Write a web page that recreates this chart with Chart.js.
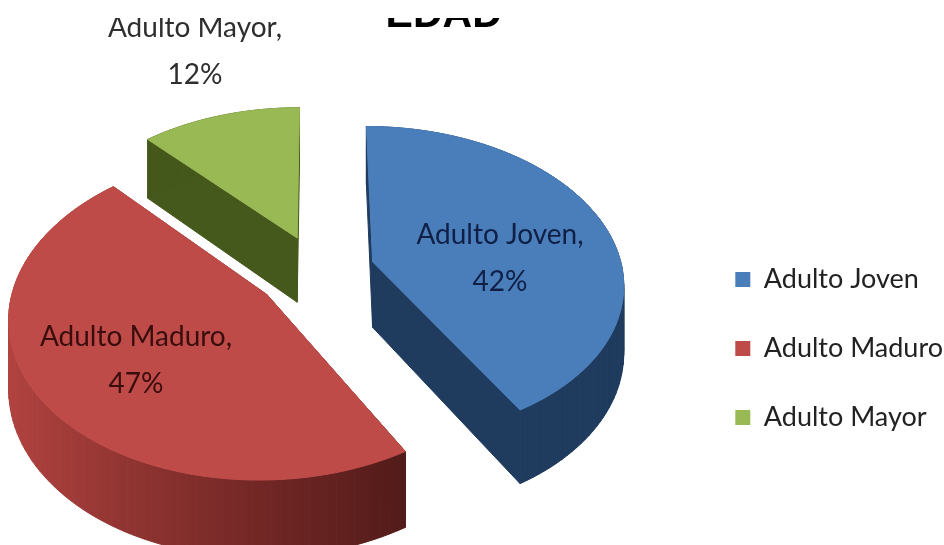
<!DOCTYPE html>
<html>
<head>
<meta charset="utf-8">
<title>EDAD</title>
<script src="https://cdn.jsdelivr.net/npm/chart.js@4"></script>
<style>
  html, body { margin: 0; padding: 0; background: #fff; }
  #wrap { position: relative; width: 944px; height: 545px; overflow: hidden; }
</style>
</head>
<body>
<div id="wrap"><canvas id="grafico" width="944" height="545"></canvas></div>
<script>
// Datos
const categorias = ['Adulto Joven', 'Adulto Maduro', 'Adulto Mayor'];
const porcentajes = [42, 47, 12];
const coloresCara = ['#4a7ebb', '#be4b48', '#98b954'];
// Color de la pared de cada porción (la roja lleva degradado de izquierda a derecha)
const coloresPared = [['#1f3b5e'], ['#b0423f', '#8d3330', '#6f2624', '#521b19'], ['#46591c']];
const coloresTexto = ['#101f45', '#3a0d0d', '#2e2e2e'];
const ordenDibujo = [2, 0, 1];

// Centro de cada etiqueta de porción
const posEtiquetas = [[500, 235], [136, 337], [195, 28]];
// Separación de cada porción respecto al centro
const explosiones = [0.228, 0.25, 0.235];

// Vista del pastel: plano inclinado con perspectiva y altura de la extrusión
const vista = { cx: 318, cy: 271, ax: 250, ay: 155, persp: 0.129, alto: 66 };

function proyectar(X, Y, z) {
  const w = 1 + vista.persp * Y;
  return {
    x: vista.cx + vista.ax * X / w,
    y: vista.cy - vista.ay * Y / w + z * vista.alto / w
  };
}

// Contorno de la porción en el plano, a partir del arco calculado por Chart.js
function contorno(arco, explosion) {
  const { startAngle, endAngle } = arco.getProps(['startAngle', 'endAngle'], true);
  const medio = (startAngle + endAngle) / 2;
  const ox = Math.cos(medio) * explosion;
  const oy = -Math.sin(medio) * explosion;
  const pts = [{ X: ox, Y: oy }];
  const pasos = 90;
  for (let i = 0; i <= pasos; i++) {
    const a = startAngle + (endAngle - startAngle) * i / pasos;
    pts.push({ X: ox + Math.cos(a), Y: oy - Math.sin(a) });
  }
  return pts;
}

function relleno(ctx, stops, pts) {
  if (stops.length === 1) return stops[0];
  const xs = pts.map(p => p.x);
  const g = ctx.createLinearGradient(Math.min(...xs), 0, Math.max(...xs), 0);
  stops.forEach((c, i) => g.addColorStop(i / (stops.length - 1), c));
  return g;
}

const pastel3d = {
  id: 'pastel3d',
  beforeDatasetsDraw(chart) {
    const ctx = chart.ctx;
    const arcos = chart.getDatasetMeta(0).data;
    ordenDibujo.forEach(i => {
      const plano = contorno(arcos[i], explosiones[i]);
      const arriba = plano.map(p => proyectar(p.X, p.Y, 0));
      const abajo = plano.map(p => proyectar(p.X, p.Y, 1));
      const pared = relleno(ctx, coloresPared[i], abajo);

      // Paredes
      ctx.save();
      ctx.fillStyle = pared;
      ctx.strokeStyle = pared;
      ctx.lineWidth = 1;
      for (let k = 0; k < plano.length; k++) {
        const n = (k + 1) % plano.length;
        ctx.beginPath();
        ctx.moveTo(arriba[k].x, arriba[k].y);
        ctx.lineTo(arriba[n].x, arriba[n].y);
        ctx.lineTo(abajo[n].x, abajo[n].y);
        ctx.lineTo(abajo[k].x, abajo[k].y);
        ctx.closePath();
        ctx.fill();
        ctx.stroke();
      }

      // Cara superior
      ctx.fillStyle = coloresCara[i];
      ctx.strokeStyle = coloresCara[i];
      ctx.beginPath();
      arriba.forEach((p, k) => k ? ctx.lineTo(p.x, p.y) : ctx.moveTo(p.x, p.y));
      ctx.closePath();
      ctx.fill();
      ctx.stroke();
      ctx.restore();
    });

    // Etiquetas de categoría y porcentaje
    ctx.save();
    ctx.font = '28px Lato';
    ctx.textAlign = 'center';
    ctx.textBaseline = 'middle';
    categorias.forEach((c, i) => {
      ctx.fillStyle = coloresTexto[i];
      ctx.fillText(c + ',', posEtiquetas[i][0], posEtiquetas[i][1]);
      ctx.fillText(porcentajes[i] + '%', posEtiquetas[i][0], posEtiquetas[i][1] + 47);
    });
    ctx.restore();
    return false; // el dibujo plano por defecto no hace falta
  },
  afterDraw(chart) {
    // Franja blanca superior que corta el título
    chart.ctx.save();
    chart.ctx.fillStyle = '#fff';
    chart.ctx.fillRect(0, 0, chart.width, 18);
    chart.ctx.restore();
  }
};

new Chart(document.getElementById('grafico'), {
  type: 'pie',
  data: {
    labels: categorias,
    datasets: [{ data: porcentajes, backgroundColor: coloresCara, borderWidth: 0 }]
  },
  options: {
    responsive: false,
    animation: false,
    layout: { padding: { left: 194, right: -9 } },
    plugins: {
      tooltip: { enabled: false },
      title: {
        display: true,
        text: 'EDAD',
        fullSize: false,
        color: '#000',
        font: { family: 'Liberation Sans', size: 41, weight: 'bold' },
        padding: { top: -9, bottom: 112 }
      },
      legend: {
        position: 'right',
        fullSize: false,
        labels: {
          boxWidth: 15,
          boxHeight: 15,
          padding: 42,
          color: '#222',
          font: { family: 'Lato', size: 27 }
        }
      }
    }
  },
  plugins: [pastel3d]
});
</script>
</body>
</html>
